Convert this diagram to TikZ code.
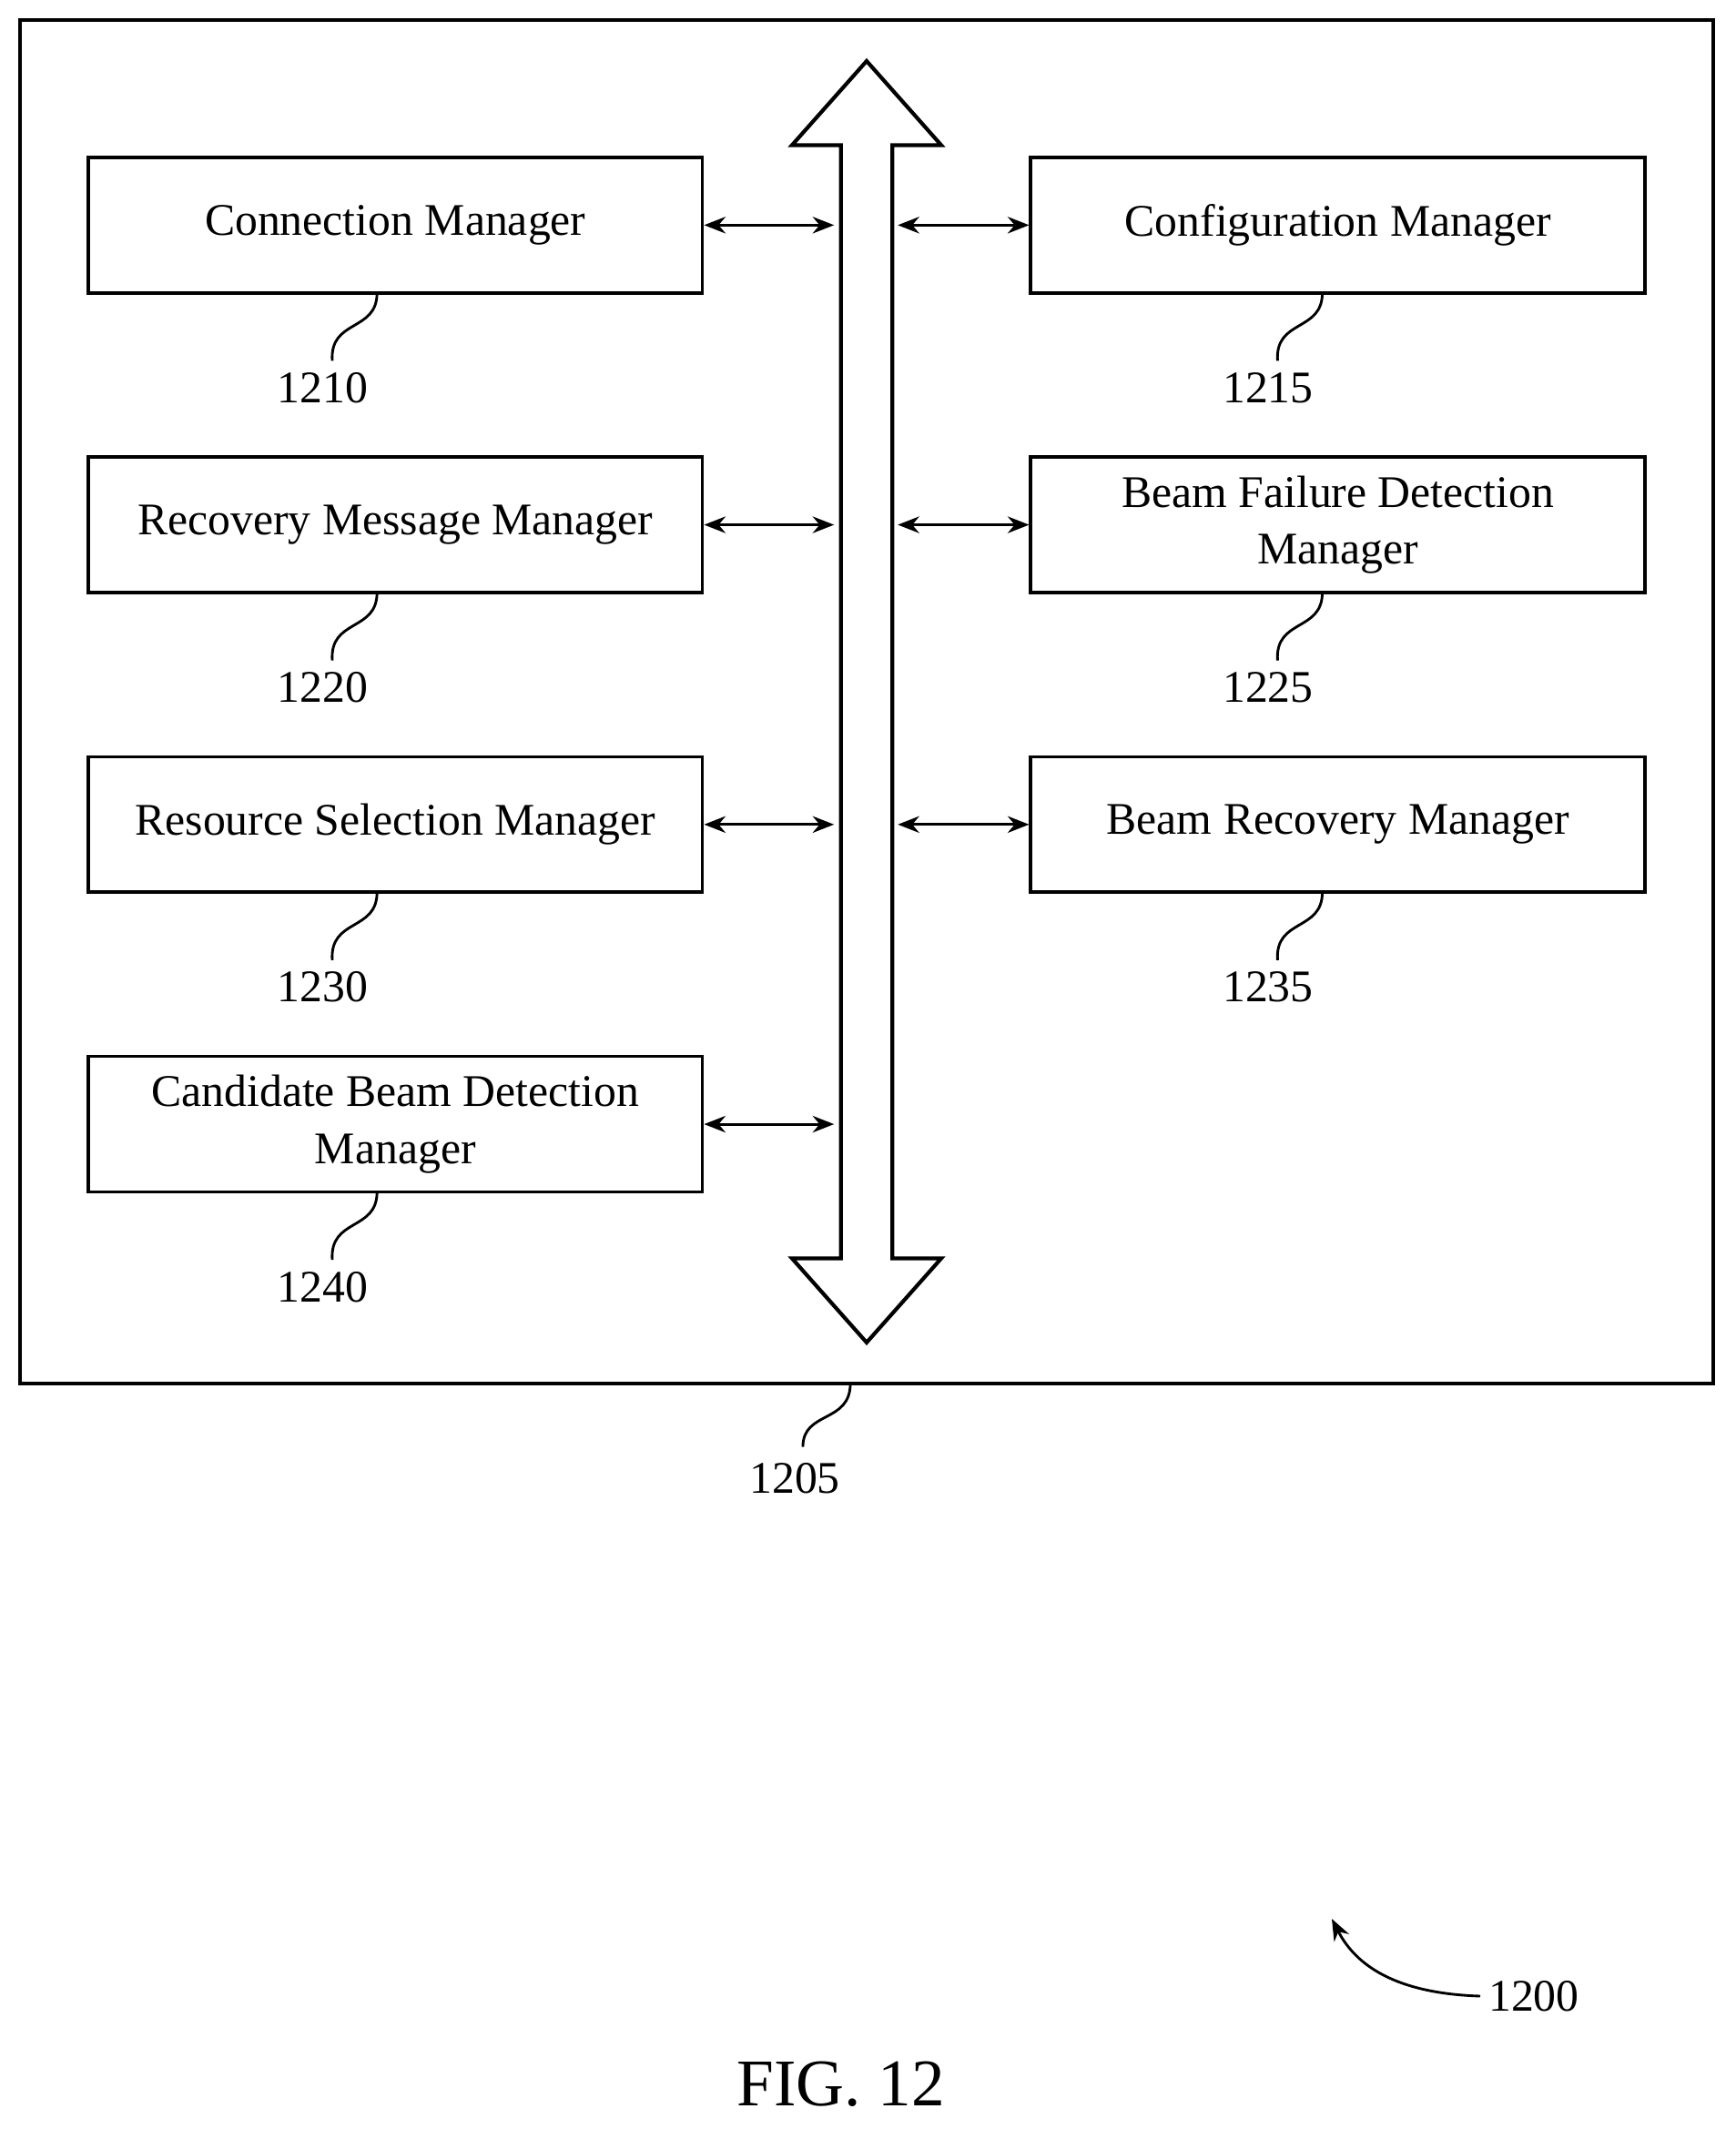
\documentclass[tikz,border=0pt]{standalone}
\usepackage{fontspec}
\setmainfont{Liberation Serif}
\usetikzlibrary{arrows.meta}
\begin{document}
\begin{tikzpicture}[x=0.02cm,y=-0.02cm,
    box/.style={draw,line width=1.4pt,minimum width=9.06cm,minimum height=2cm,align=center,font=\fontsize{19}{24}\selectfont},
    lbl/.style={font=\fontsize{19}{22}\selectfont},
    link/.style={<->,>={Stealth[length=9pt,width=7pt]},line width=1.1pt}]
\useasboundingbox (0,0) rectangle (1280,1570);
\draw[line width=1.6pt] (15,15) rectangle (1263,1020);
% bus
\draw[line width=1.6pt] (620,107) -- (584,107) -- (639,45) -- (694,107) -- (658,107)
  -- (658,928) -- (694,928) -- (639,990) -- (584,928) -- (620,928) -- cycle;
\node[box] (cm) at (291.5,166) {Connection Manager};
\node[box] (rmm) at (291.5,387) {Recovery Message Manager};
\node[box] (rsm) at (291.5,608) {Resource Selection Manager};
\node[box] (cbd) at (291.5,829) {Candidate Beam Detection\\Manager};
\node[box] (cfm) at (986.5,166) {Configuration Manager};
\node[box] (bfd) at (986.5,387) {Beam Failure Detection\\Manager};
\node[box] (brm) at (986.5,608) {Beam Recovery Manager};
\foreach \n/\y in {cm/166,rmm/387,rsm/608,cbd/829}{
  \coordinate (b\n) at (615,\y);
  \draw[link] (\n) -- (b\n);
}
\foreach \n/\y in {cfm/166,bfd/387,brm/608}{
  \coordinate (b\n) at (662,\y);
  \draw[link] (b\n) -- (\n);
}
% reference numerals
\foreach \n/\x/\y/\t in {cm/278/216/1210,rmm/278/437/1220,rsm/278/658/1230,cbd/278/879/1240,
    cfm/975/216/1215,bfd/975/437/1225,brm/975/658/1235}{
  \draw[line width=1.1pt] (\x,\y) .. controls (\x,\y+29) and (\x-35,\y+19) .. (\x-33,\y+50)
    coordinate (s\n);
  \node[lbl] (l\n) at (\x-40,\y+70) {\t};
}
\draw[line width=1.1pt] (627,1020) .. controls (627,1050) and (592,1040) .. (592,1067);
\node[lbl] (l1205) at (586,1090) {1205};
\node[lbl] (l1200) at (1131,1472) {1200};
\draw[->,>={Stealth[length=9pt,width=7pt]},line width=1.1pt] (l1200.west) .. controls (1030,1470) and (1000,1450) .. (982,1415);
\node[font=\fontsize{28}{32}\selectfont] (fig) at (620,1537) {FIG. 12};
\end{tikzpicture}
\end{document}
